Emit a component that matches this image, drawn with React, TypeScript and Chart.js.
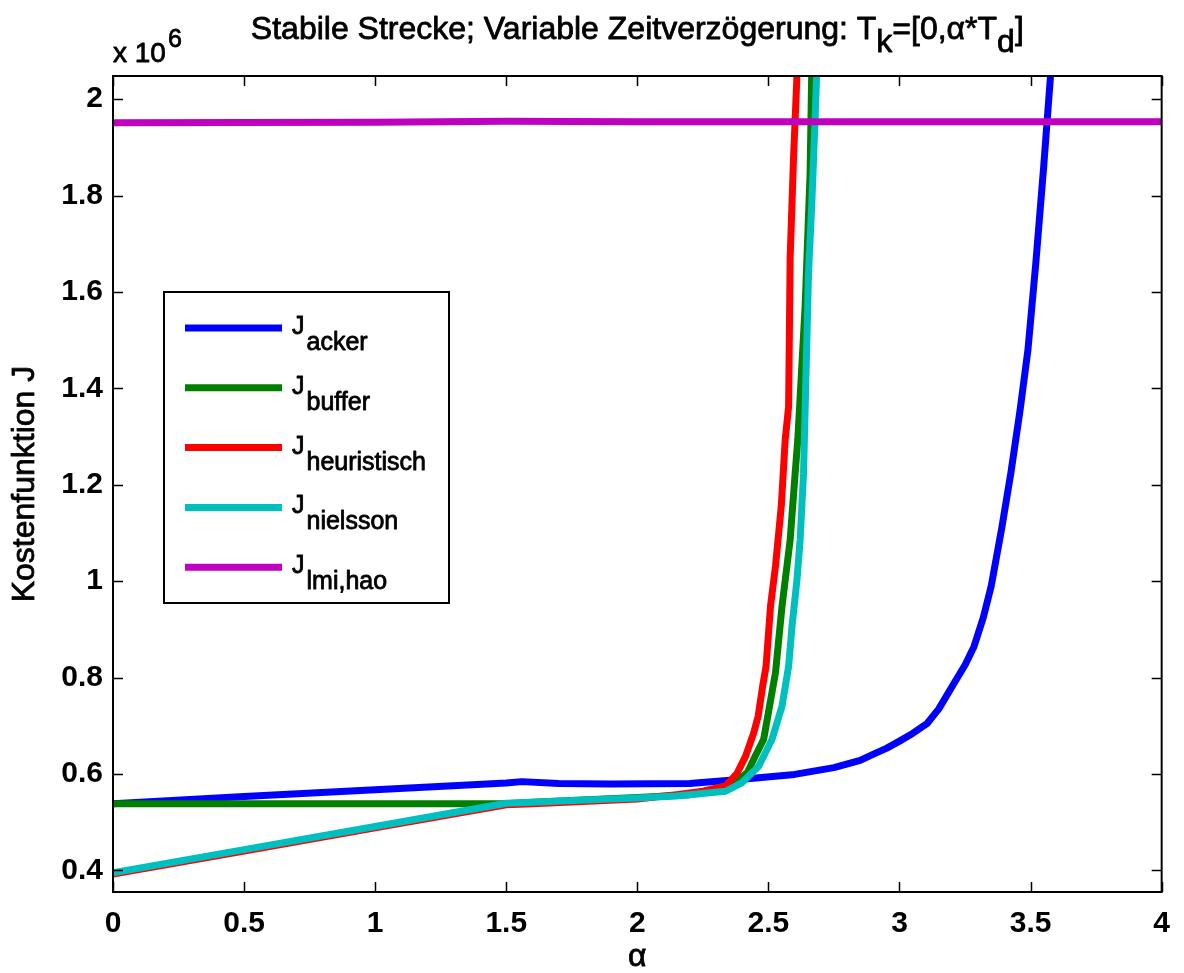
import React, { useEffect, useRef } from "react";
import { Chart, registerables } from "chart.js";

Chart.register(...registerables);

// ---------- data (values in units of 10^6) ----------
const xTicks = [0, 0.5, 1, 1.5, 2, 2.5, 3, 3.5, 4];
const yTicks = [0.4, 0.6, 0.8, 1.0, 1.2, 1.4, 1.6, 1.8, 2.0];
const xMin = 0;
const xMax = 4;
const yMin = 0.355;
const yMax = 2.048;

const seriesNames = ["acker", "buffer", "heuristisch", "nielsson", "lmi,hao"];
const seriesColors = ["#0000ff", "#008000", "#ff0000", "#00bfbf", "#bf00bf"];

const alphaAcker = [0, 0.5, 1.0, 1.5, 1.56, 1.7, 1.9, 2.2, 2.4, 2.6, 2.75, 2.85, 2.905, 2.95, 3.0, 3.05, 3.106, 3.15, 3.208, 3.25, 3.284, 3.32, 3.35, 3.39, 3.425, 3.46, 3.49, 3.52, 3.55, 3.576, 3.6];
const jAcker = [0.538, 0.553, 0.567, 0.581, 0.584, 0.58, 0.579, 0.58, 0.589, 0.599, 0.613, 0.628, 0.642, 0.653, 0.668, 0.684, 0.705, 0.735, 0.788, 0.826, 0.864, 0.925, 0.99, 1.11, 1.225, 1.355, 1.48, 1.66, 1.86, 2.048, 2.25];

const alphaBuffer = [0, 1.5, 1.6, 2.0, 2.2, 2.3, 2.38, 2.42, 2.45, 2.482, 2.527, 2.552, 2.583, 2.602, 2.612, 2.64, 2.659, 2.665, 2.675];
const jBuffer = [0.538, 0.538, 0.541, 0.551, 0.557, 0.565, 0.585, 0.603, 0.637, 0.672, 0.81, 0.948, 1.086, 1.224, 1.293, 1.57, 1.846, 2.05, 2.25];

const alphaHeur = [0, 0.5, 1.0, 1.5, 1.6, 2.0, 2.15, 2.25, 2.337, 2.381, 2.413, 2.444, 2.461, 2.478, 2.491, 2.508, 2.527, 2.549, 2.564, 2.577, 2.583, 2.596, 2.609, 2.615];
const jHeur = [0.392, 0.44, 0.488, 0.536, 0.538, 0.548, 0.557, 0.564, 0.575, 0.602, 0.637, 0.685, 0.72, 0.782, 0.823, 0.948, 1.031, 1.155, 1.293, 1.362, 1.673, 1.88, 2.05, 2.2];

const alphaNiel = [0, 0.5, 1.0, 1.5, 1.6, 1.8, 2.0, 2.148, 2.337, 2.4, 2.463, 2.514, 2.552, 2.577, 2.59, 2.609, 2.621, 2.634, 2.653, 2.665, 2.678, 2.684, 2.69];
const jNiel = [0.395, 0.443, 0.491, 0.539, 0.541, 0.546, 0.55, 0.554, 0.564, 0.582, 0.616, 0.672, 0.741, 0.823, 0.906, 1.003, 1.086, 1.224, 1.639, 1.777, 1.956, 2.05, 2.2];

const alphaLmi = [0, 1.0, 1.5, 2.0, 3.0, 4.0];
const jLmi = [1.951, 1.952, 1.954, 1.953, 1.953, 1.953];

const titleParts: [string, boolean][] = [
  ["Stabile Strecke; Variable Zeitverzögerung: T", false],
  ["k", true],
  ["=[0,α*T", false],
  ["d", true],
  ["]", false],
];
const xTitle = "α";
const yTitle = "Kostenfunktion J";
const legendMain = "J";

const FONT = '"Liberation Sans", Arial, Helvetica, sans-serif';

const toPts = (xs: number[], ys: number[]) => xs.map((x, i) => ({ x, y: ys[i] }));

function heavyText(ctx: CanvasRenderingContext2D, t: string, x: number, y: number, w = 0.8) {
  ctx.fillText(t, x, y);
  ctx.lineWidth = w;
  ctx.strokeStyle = "#000";
  ctx.lineJoin = "round";
  ctx.strokeText(t, x, y);
}

const decorPlugin = {
  id: "decor",
  afterDatasetsDraw(chart: any) {
    const { ctx, chartArea: a, scales } = chart;
    const xs = scales.x;
    const ys = scales.y;
    ctx.save();
    ctx.strokeStyle = "#000";
    ctx.lineWidth = 1.5;
    ctx.beginPath();
    for (const v of xTicks) {
      const p = Math.round(xs.getPixelForValue(v)) + 0.5;
      ctx.moveTo(p, a.bottom);
      ctx.lineTo(p, a.bottom - 10);
      ctx.moveTo(p, a.top);
      ctx.lineTo(p, a.top + 10);
    }
    for (const v of yTicks) {
      const p = Math.round(ys.getPixelForValue(v)) + 0.5;
      ctx.moveTo(a.left, p);
      ctx.lineTo(a.left + 10, p);
      ctx.moveTo(a.right, p);
      ctx.lineTo(a.right - 10, p);
    }
    ctx.stroke();
    ctx.lineWidth = 2;
    ctx.strokeRect(a.left, a.top, a.right - a.left, a.bottom - a.top);

    // legend
    const lx = a.left + 51;
    const ly = a.top + 216;
    const lw = 285;
    const lh = 311;
    ctx.fillStyle = "#fff";
    ctx.fillRect(lx, ly, lw, lh);
    ctx.lineWidth = 2;
    ctx.strokeRect(lx, ly, lw, lh);
    ctx.font = `25px ${FONT}`;
    ctx.textBaseline = "alphabetic";
    ctx.textAlign = "left";
    seriesNames.forEach((name, i) => {
      const y = ly + 36 + i * 59.8;
      ctx.strokeStyle = seriesColors[i];
      ctx.lineWidth = 7;
      ctx.beginPath();
      ctx.moveTo(lx + 21, y);
      ctx.lineTo(lx + 118, y);
      ctx.stroke();
      ctx.fillStyle = "#000";
      const tx = lx + 128;
      heavyText(ctx, legendMain, tx, y + 6);
      const jw = ctx.measureText(legendMain).width;
      heavyText(ctx, name, tx + jw + 2, y + 22);
    });
    ctx.restore();
  },
  afterDraw(chart: any) {
    const { ctx, chartArea: a } = chart;
    ctx.save();
    ctx.fillStyle = "#000";
    ctx.textBaseline = "alphabetic";
    ctx.textAlign = "left";
    // title with subscripts
    ctx.font = `32px ${FONT}`;
    let total = 0;
    for (const [t] of titleParts) total += ctx.measureText(t).width;
    let x = (a.left + a.right) / 2 - total / 2;
    const base = 39;
    for (const [t, sub] of titleParts) {
      heavyText(ctx, t, x, sub ? base + 13 : base);
      x += ctx.measureText(t).width;
    }
    // exponent label
    ctx.font = `28px ${FONT}`;
    heavyText(ctx, "x 10", a.left, 62);
    const w10 = ctx.measureText("x 10").width;
    ctx.font = `25px ${FONT}`;
    heavyText(ctx, "6", a.left + w10 + 2, 47);
    // x title
    ctx.font = `32px ${FONT}`;
    ctx.textAlign = "center";
    ctx.textBaseline = "middle";
    heavyText(ctx, xTitle, (a.left + a.right) / 2, 957);
    // y title
    ctx.font = `32px ${FONT}`;
    ctx.translate(25, (a.top + a.bottom) / 2);
    ctx.rotate(-Math.PI / 2);
    heavyText(ctx, yTitle, 0, 0);
    ctx.restore();
  },
};

export default function App() {
  const ref = useRef<HTMLCanvasElement | null>(null);
  useEffect(() => {
    if (!ref.current) return;
    const sets = [
      toPts(alphaAcker, jAcker),
      toPts(alphaBuffer, jBuffer),
      toPts(alphaHeur, jHeur),
      toPts(alphaNiel, jNiel),
      toPts(alphaLmi, jLmi),
    ];
    const chart = new Chart(ref.current, {
      type: "line",
      data: {
        datasets: sets.map((d, i) => ({
          label: seriesNames[i],
          data: d,
          borderColor: seriesColors[i],
          backgroundColor: seriesColors[i],
          borderWidth: 7,
          pointRadius: 0,
          tension: 0,
          fill: false,
          borderJoinStyle: "round" as const,
          clip: 0,
          order: seriesNames.length - i,
        })),
      },
      options: {
        animation: false,
        responsive: false,
        devicePixelRatio: 1,
        layout: { padding: { top: 76, right: 16, left: 0, bottom: 0 } },
        plugins: { legend: { display: false }, tooltip: { enabled: false }, title: { display: false } },
        scales: {
          x: {
            type: "linear",
            min: xMin,
            max: xMax,
            grid: { display: false, drawTicks: false },
            border: { display: false },
            afterBuildTicks: (s: any) => {
              s.ticks = xTicks.map((v) => ({ value: v }));
            },
            afterFit: (s: any) => {
              s.height = 81;
            },
            ticks: {
              autoSkip: false,
              maxRotation: 0,
              color: "#000",
              padding: 14,
              font: { family: FONT, size: 30, weight: "bold" },
              callback: (v: any) => String(+Number(v).toFixed(2)),
            },
          },
          y: {
            type: "linear",
            min: yMin,
            max: yMax,
            grid: { display: false, drawTicks: false },
            border: { display: false },
            afterBuildTicks: (s: any) => {
              s.ticks = yTicks.map((v) => ({ value: v }));
            },
            afterFit: (s: any) => {
              s.width = 113;
            },
            ticks: {
              autoSkip: false,
              color: "#000",
              padding: 10,
              font: { family: FONT, size: 30, weight: "bold" },
              callback: (v: any) => String(+Number(v).toFixed(2)),
            },
          },
        },
      },
      plugins: [decorPlugin],
    });
    return () => chart.destroy();
  }, []);
  return (
    <div style={{ position: "absolute", left: 0, top: 0, width: 1184, height: 973, background: "#fff" }}>
      <canvas ref={ref} width={1184} height={973} />
    </div>
  );
}
